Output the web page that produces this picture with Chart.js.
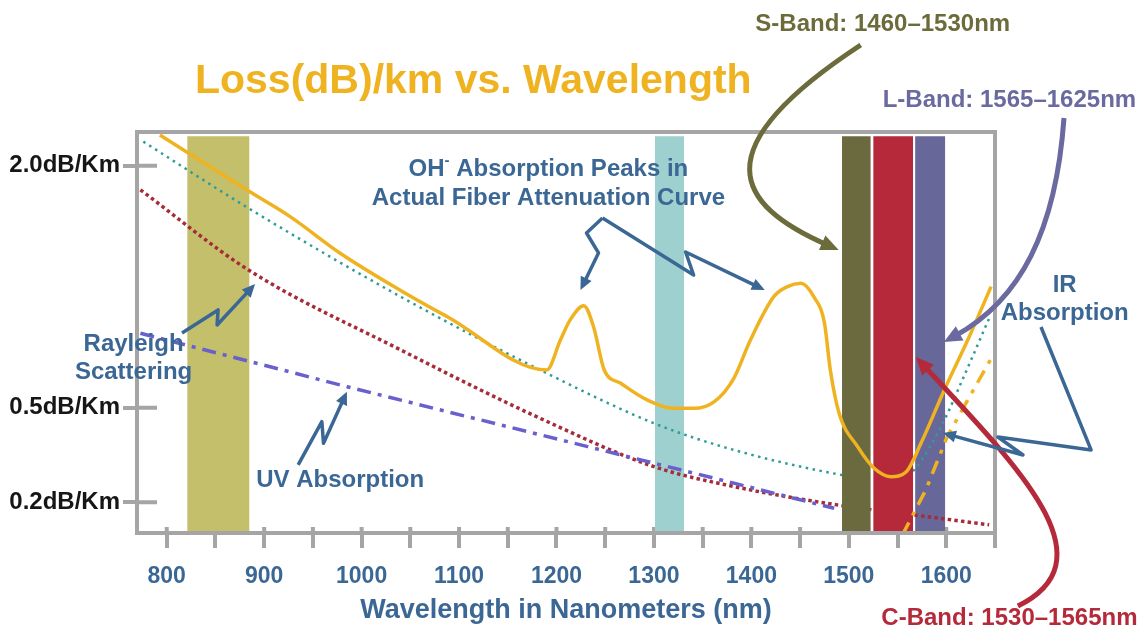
<!DOCTYPE html>
<html>
<head>
<meta charset="utf-8">
<title>Loss(dB)/km vs. Wavelength</title>
<script src="https://cdn.jsdelivr.net/npm/chart.js@4.4.1/dist/chart.umd.min.js"></script>
<style>
  html, body { margin: 0; padding: 0; background: #fff; }
  #wrap { width: 1140px; height: 632px; }
</style>
</head>
<body>
<div id="wrap"><canvas id="lossChart" width="1140" height="632"></canvas></div>
<script>
'use strict';

/*---------------------------------------------------------------*/
/*----------------------------- data ----------------------------*/
/*---------------------------------------------------------------*/

// attenuation of a real fiber (with the two OH- peaks), nm / dB per km
const fiberNm   = [793, 884, 927, 978, 1040, 1088, 1190, 1204, 1214, 1228, 1238, 1249, 1266, 1293, 1320, 1341, 1362, 1382, 1399, 1423, 1437, 1451, 1464, 1475, 1481, 1490, 1509, 1526, 1543, 1559, 1574, 1598, 1622, 1646];
const fiberLoss = [2.27, 1.79, 1.59, 1.33, 1.09, 0.936, 0.663, 0.81, 0.918, 0.999, 0.881, 0.663, 0.603, 0.532, 0.498, 0.498, 0.525, 0.625, 0.81, 1.052, 1.113, 1.134, 1.052, 0.90, 0.663, 0.479, 0.359, 0.291, 0.267, 0.281, 0.37, 0.574, 0.81, 1.113];

// teal dotted curve (sum of the loss mechanisms)
const totalNm   = [776, 884, 1040, 1190, 1300, 1382, 1492, 1543, 1567, 1598, 1615, 1644];
const totalLoss = [2.21, 1.655, 1.052, 0.648, 0.441, 0.348, 0.272, 0.252, 0.286, 0.453, 0.603, 0.927];

// Rayleigh scattering
const rayleighNm   = [773, 884, 1040, 1187, 1300, 1382, 1488, 1567, 1644];
const rayleighLoss = [1.80, 1.218, 0.76, 0.453, 0.296, 0.24, 0.194, 0.171, 0.150];

// UV absorption
const uvNm   = [773, 985, 1232, 1382, 1485];
const uvLoss = [0.846, 0.588, 0.359, 0.249, 0.186];

// IR absorption
const irNm   = [1555, 1579, 1601, 1649];
const irLoss = [0.13, 0.231, 0.393, 0.743];

// shaded windows (nm)
const bandFrom = [821, 1301, 1493, 1525, 1568];
const bandTo   = [885, 1331, 1522.5, 1566, 1599];
const bandTop  = 2.26;

// axes
const xMin = 769.5, xMax = 1650;
const yMin = 0.1338, yMax = 2.298;
const xTickValues = [800, 850, 900, 950, 1000, 1050, 1100, 1150, 1200, 1250, 1300, 1350, 1400, 1450, 1500, 1550, 1600, 1650];
const xTickLabels = ['800', '', '900', '', '1000', '', '1100', '', '1200', '', '1300', '', '1400', '', '1500', '', '1600', ''];
const yTickValues = [0.2, 0.5, 2.0];
const yTickLabels = ['0.2dB/Km', '0.5dB/Km', '2.0dB/Km'];

/*---------------------------------------------------------------*/
/*--------------------------- colours ---------------------------*/
/*---------------------------------------------------------------*/
const ORANGE = '#efb322';
const BLUE = '#3b6795';
const OLIVE = '#6b6b3c';
const RED = '#b42a3a';
const PURPLE = '#6a6aa0';
const FRAME = '#a5a5a5';
const bandColors = ['#c3bf6b', '#9dd0cf', '#6b6a3e', '#b5293a', '#676799'];
const FONT = '"Liberation Sans", Arial, sans-serif';

/*---------------------------------------------------------------*/
/*------------------- callouts (nm , dB/km) ---------------------*/
/*---------------------------------------------------------------*/
const titleText = 'Loss(dB)/km vs. Wavelength';
const titleAt = [829, 2.783];

const labels = [
    // lines, nm, dB/km, colour
    [['Rayleigh', 'Scattering'], 766, 0.79, BLUE],
    [['UV Absorption'], 978, 0.258, BLUE],
    [['IR', 'Absorption'], 1721.5, 1.123, BLUE],
    [['S-Band: 1460\u20131530nm'], 1534.8, 3.41, OLIVE],
    [['L-Band: 1565\u20131625nm'], 1664.8, 2.603, PURPLE],
    [['C-Band: 1530\u20131565nm'], 1664.8, 0.0227, RED]
];
const ohAt = [1191.7, 1.972];

const zigzags = [
    [[1247.2, 1.5815], [1230.8, 1.4713], [1243.1, 1.3315], [1224.6, 1.092]],
    [[1247.2, 1.5815], [1340.7, 1.1863], [1332.5, 1.3382], [1413.7, 1.092]],
    [[815.7, 0.8472], [852.7, 0.9742], [851.7, 0.8902], [890.7, 1.129]],
    [[934.9, 0.301], [959.2, 0.4468], [960.9, 0.370], [984.9, 0.5666]],
    [[1697.2, 0.8793], [1748.6, 0.348], [1653.0, 0.3916], [1678.7, 0.3318], [1596.5, 0.4057]]
];

const curves = [
    // start, control 1, control 2, tip, colour
    [[1512.2, 3.175], [1347.9, 2.136], [1383.8, 1.6806], [1489.6, 1.352], OLIVE],
    [[1720.8, 2.4286], [1712.6, 1.493], [1676.6, 1.0323], [1597.5, 0.800], PURPLE],
    [[1673.5, 0.03232], [1769.1, 0.0873], [1676.6, 0.2862], [1568.7, 0.7249], RED]
];

/*---------------------------------------------------------------*/
/*------------------ y axis: stretched power --------------------*/
/*---------------------------------------------------------------*/
const POW = 0.45;

class PowerScale extends Chart.LinearScale {
    static id = 'power';
    static defaults = {};

    buildTicks() {
        return yTickValues.map(v => ({ value: v }));
    }
    getPixelForValue(value) {
        const lo = Math.pow(this.min, POW), hi = Math.pow(this.max, POW);
        return this.getPixelForDecimal((Math.pow(value, POW) - lo) / (hi - lo));
    }
    getValueForPixel(pixel) {
        const lo = Math.pow(this.min, POW), hi = Math.pow(this.max, POW);
        return Math.pow(lo + this.getDecimalForPixel(pixel) * (hi - lo), 1 / POW);
    }
}
Chart.register(PowerScale);

/*---------------------------------------------------------------*/
/*---------------------------- helpers --------------------------*/
/*---------------------------------------------------------------*/
function pts(xs, ys) {
    return xs.map((x, i) => ({ x: x, y: ys[i] }));
}

function bandSet(i, order) {
    return {
        data: [{ x: bandFrom[i], y: bandTop }, { x: bandTo[i], y: bandTop }],
        fill: 'start',
        backgroundColor: bandColors[i],
        borderColor: 'rgba(0,0,0,0)',
        borderWidth: 0,
        pointRadius: 0,
        order: order
    };
}

function arrowHead(ctx, tip, from, len, half) {
    const a = Math.atan2(tip[1] - from[1], tip[0] - from[0]);
    const bx = tip[0] - len * Math.cos(a), by = tip[1] - len * Math.sin(a);
    ctx.beginPath();
    ctx.moveTo(tip[0], tip[1]);
    ctx.lineTo(bx + half * Math.sin(a), by - half * Math.cos(a));
    ctx.lineTo(bx - half * Math.sin(a), by + half * Math.cos(a));
    ctx.closePath();
    ctx.fill();
}

function shorten(tip, from, d) {
    const a = Math.atan2(tip[1] - from[1], tip[0] - from[0]);
    return [tip[0] - d * Math.cos(a), tip[1] - d * Math.sin(a)];
}

/*---------------------------------------------------------------*/
/*------------------------ callout plugin -----------------------*/
/*---------------------------------------------------------------*/
const callouts = {
    id: 'callouts',
    beforeDatasetsDraw(chart) {
        // the tick marks also reach a little inside the frame
        const { ctx, chartArea: a, scales: { x, y } } = chart;
        ctx.save();
        ctx.strokeStyle = FRAME;
        ctx.lineWidth = 4;
        ctx.beginPath();
        x.ticks.forEach(t => {
            const px = x.getPixelForValue(t.value);
            ctx.moveTo(px, a.bottom);
            ctx.lineTo(px, a.bottom - 6);
        });
        y.ticks.forEach(t => {
            const py = y.getPixelForValue(t.value);
            ctx.moveTo(a.left, py);
            ctx.lineTo(a.left + 20, py);
        });
        ctx.stroke();
        ctx.restore();
    },
    afterDatasetsDraw(chart) {
        const { ctx, chartArea: a } = chart;
        ctx.save();
        ctx.strokeStyle = FRAME;
        ctx.lineWidth = 4;
        ctx.strokeRect(a.left, a.top, a.right - a.left, a.bottom - a.top);
        ctx.restore();
    },
    afterDraw(chart) {
        const { ctx, scales: { x, y } } = chart;
        const P = p => [x.getPixelForValue(p[0]), y.getPixelForValue(p[1])];
        ctx.save();
        ctx.lineJoin = 'round';

        // title
        ctx.font = 'bold 41px ' + FONT;
        ctx.fillStyle = ORANGE;
        ctx.textAlign = 'left';
        ctx.textBaseline = 'middle';
        const tp = P(titleAt);
        ctx.fillText(titleText, tp[0], tp[1]);

        // thick curved arrows for the bands
        curves.forEach(c => {
            const p0 = P(c[0]), c1 = P(c[1]), c2 = P(c[2]), tip = P(c[3]);
            const end = shorten(tip, c2, 12);
            ctx.strokeStyle = c[4];
            ctx.fillStyle = c[4];
            ctx.lineWidth = 5;
            ctx.beginPath();
            ctx.moveTo(p0[0], p0[1]);
            ctx.bezierCurveTo(c1[0], c1[1], c2[0], c2[1], end[0], end[1]);
            ctx.stroke();
            arrowHead(ctx, tip, c2, 18, 8);
        });

        // blue lightning arrows
        ctx.strokeStyle = BLUE;
        ctx.fillStyle = BLUE;
        ctx.lineWidth = 3.5;
        zigzags.forEach(z => {
            const p = z.map(P);
            const n = p.length;
            const end = shorten(p[n - 1], p[n - 2], 9);
            ctx.beginPath();
            ctx.moveTo(p[0][0], p[0][1]);
            for (let i = 1; i < n - 1; i++) ctx.lineTo(p[i][0], p[i][1]);
            ctx.lineTo(end[0], end[1]);
            ctx.stroke();
            arrowHead(ctx, p[n - 1], p[n - 2], 13, 6);
        });

        // text labels
        ctx.font = 'bold 24px ' + FONT;
        ctx.textAlign = 'center';
        labels.forEach(l => {
            const p = P([l[1], l[2]]);
            ctx.fillStyle = l[3];
            l[0].forEach((s, i) => ctx.fillText(s, p[0], p[1] + i * 28));
        });

        // OH- label with the superscript minus
        const oh = P(ohAt);
        const w1 = ctx.measureText('OH').width;
        const w3 = ctx.measureText(' Absorption Peaks in').width;
        ctx.font = 'bold 15px ' + FONT;
        const w2 = ctx.measureText('-').width;
        let sx = oh[0] - (w1 + w2 + w3) / 2;
        ctx.fillStyle = BLUE;
        ctx.textAlign = 'left';
        ctx.fillText('-', sx + w1, oh[1] - 8);
        ctx.font = 'bold 24px ' + FONT;
        ctx.fillText('OH', sx, oh[1]);
        ctx.fillText(' Absorption Peaks in', sx + w1 + w2, oh[1]);
        ctx.textAlign = 'center';
        ctx.fillText('Actual Fiber Attenuation Curve', oh[0], oh[1] + 29);

        ctx.restore();
    }
};

/*---------------------------------------------------------------*/
/*----------------------------- chart ---------------------------*/
/*---------------------------------------------------------------*/
const datasets = [
    {
        label: 'Actual fiber attenuation',
        data: pts(fiberNm, fiberLoss),
        borderColor: ORANGE,
        borderWidth: 3.5,
        cubicInterpolationMode: 'monotone',
        pointRadius: 0,
        order: 0
    },
    {
        label: 'IR absorption',
        data: pts(irNm, irLoss),
        borderColor: ORANGE,
        borderWidth: 3.5,
        borderDash: [14, 8, 4, 8],
        pointRadius: 0,
        order: 1
    },
    bandSet(2, 2),
    bandSet(3, 3),
    {
        label: 'UV absorption',
        data: pts(uvNm, uvLoss),
        borderColor: '#6a60cc',
        borderWidth: 3.5,
        borderDash: [14, 7, 4, 7],
        pointRadius: 0,
        order: 4
    },
    {
        label: 'Total',
        data: pts(totalNm, totalLoss),
        borderColor: '#2f9c98',
        borderWidth: 2.5,
        borderDash: [2.5, 4.5],
        cubicInterpolationMode: 'monotone',
        pointRadius: 0,
        order: 5
    },
    {
        label: 'Rayleigh scattering',
        data: pts(rayleighNm, rayleighLoss),
        borderColor: '#a52c38',
        borderWidth: 3.5,
        borderDash: [3.5, 3.2],
        cubicInterpolationMode: 'monotone',
        pointRadius: 0,
        order: 6
    },
    bandSet(4, 7),
    bandSet(1, 8),
    bandSet(0, 9)
];

new Chart(document.getElementById('lossChart'), {
    type: 'line',
    data: { datasets: datasets },
    plugins: [callouts],
    options: {
        responsive: false,
        animation: false,
        layout: { padding: { left: 10, right: 145, top: 132, bottom: 0 } },
        plugins: {
            legend: { display: false },
            tooltip: { enabled: false }
        },
        scales: {
            x: {
                type: 'linear',
                min: xMin,
                max: xMax,
                afterBuildTicks: s => { s.ticks = xTickValues.map(v => ({ value: v })); },
                afterFit: s => { s.height = 99; },
                ticks: {
                    autoSkip: false,
                    maxRotation: 0,
                    padding: 15,
                    color: BLUE,
                    font: { family: FONT, size: 23, weight: 'bold' },
                    callback: (v, i) => xTickLabels[i]
                },
                grid: { drawOnChartArea: false, color: FRAME, lineWidth: 4, tickLength: 15 },
                border: { display: false },
                title: {
                    display: true,
                    text: 'Wavelength in Nanometers (nm)',
                    color: BLUE,
                    font: { family: FONT, size: 27, weight: 'bold' },
                    padding: { top: 0, bottom: 5 }
                }
            },
            y: {
                type: 'power',
                min: yMin,
                max: yMax,
                afterFit: s => { s.width = 127; },
                ticks: {
                    autoSkip: false,
                    padding: 3,
                    color: '#161616',
                    font: { family: FONT, size: 24, weight: 'bold' },
                    callback: (v, i) => yTickLabels[i]
                },
                grid: { drawOnChartArea: false, color: FRAME, lineWidth: 4, tickLength: 14 },
                border: { display: false }
            }
        }
    }
});
</script>
</body>
</html>
